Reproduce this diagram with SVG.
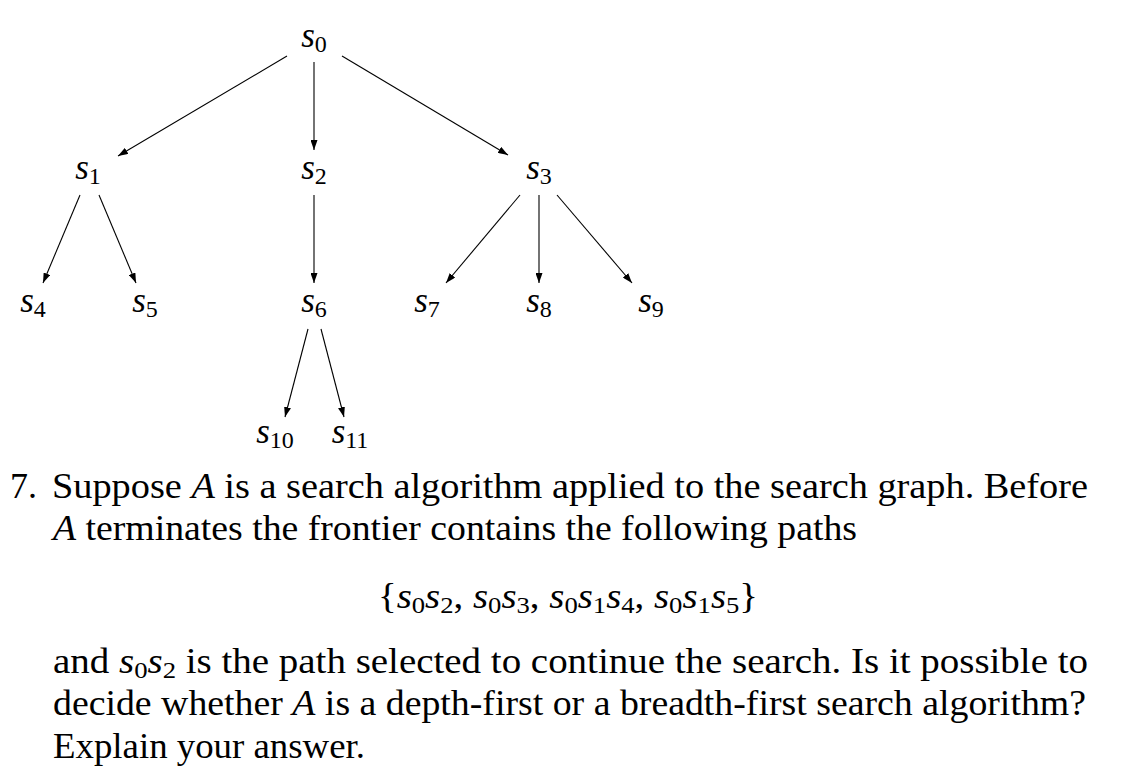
<svg xmlns="http://www.w3.org/2000/svg" width="1143" height="784" viewBox="0 0 1143 784">
<defs>
<style>
.lbl{font-family:"Liberation Serif","DejaVu Serif",serif;font-size:35px;font-style:italic;fill:#000}
.sub{font-size:24px;font-style:normal}
.body{font-family:"Liberation Serif","DejaVu Serif",serif;font-size:35px;fill:#000}
.it{font-style:italic}
.edge{stroke:#000;stroke-width:1.1;fill:none;marker-end:url(#ah)}
</style>
<marker id="ah" viewBox="0 0 10 7" refX="10" refY="3.5" markerWidth="10" markerHeight="7" markerUnits="userSpaceOnUse" orient="auto">
<path d="M0,0 L10,3.5 L0,7 Z" fill="#000"/>
</marker>
</defs>
<rect width="1143" height="784" fill="#fff"/>
<g id="connectors">
<line class="edge" x1="287" y1="56" x2="118" y2="156"/>
<line class="edge" x1="314" y1="62" x2="314" y2="150"/>
<line class="edge" x1="342" y1="56" x2="508" y2="155"/>
<line class="edge" x1="80" y1="195" x2="43" y2="283"/>
<line class="edge" x1="99" y1="195" x2="136" y2="283"/>
<line class="edge" x1="314" y1="195" x2="314" y2="283"/>
<line class="edge" x1="520" y1="195" x2="446" y2="283"/>
<line class="edge" x1="539" y1="195" x2="539" y2="283"/>
<line class="edge" x1="557" y1="195" x2="632" y2="283"/>
<line class="edge" x1="308" y1="329" x2="285" y2="417"/>
<line class="edge" x1="321" y1="329" x2="344" y2="417"/>
</g>
<g id="s0"><text class="lbl" x="314" y="47" text-anchor="middle">s<tspan class="sub" dy="5">0</tspan></text></g>
<g id="s1"><text class="lbl" x="88" y="179" text-anchor="middle">s<tspan class="sub" dy="5">1</tspan></text></g>
<g id="s2"><text class="lbl" x="314" y="179" text-anchor="middle">s<tspan class="sub" dy="5">2</tspan></text></g>
<g id="s3"><text class="lbl" x="539" y="179" text-anchor="middle">s<tspan class="sub" dy="5">3</tspan></text></g>
<g id="s4"><text class="lbl" x="33" y="312" text-anchor="middle">s<tspan class="sub" dy="5">4</tspan></text></g>
<g id="s5"><text class="lbl" x="145" y="312" text-anchor="middle">s<tspan class="sub" dy="5">5</tspan></text></g>
<g id="s6"><text class="lbl" x="314" y="312" text-anchor="middle">s<tspan class="sub" dy="5">6</tspan></text></g>
<g id="s7"><text class="lbl" x="427" y="312" text-anchor="middle">s<tspan class="sub" dy="5">7</tspan></text></g>
<g id="s8"><text class="lbl" x="539" y="312" text-anchor="middle">s<tspan class="sub" dy="5">8</tspan></text></g>
<g id="s9"><text class="lbl" x="651" y="312" text-anchor="middle">s<tspan class="sub" dy="5">9</tspan></text></g>
<g id="s10"><text class="lbl" x="275" y="443" text-anchor="middle">s<tspan class="sub" dy="5">10</tspan></text></g>
<g id="s11"><text class="lbl" x="350" y="443" text-anchor="middle">s<tspan class="sub" dy="5">11</tspan></text></g>
<g id="question">
<text class="body" x="10" y="498" textLength="27" lengthAdjust="spacingAndGlyphs">7.</text>
<text class="body" x="52" y="498" textLength="1036" lengthAdjust="spacingAndGlyphs">Suppose <tspan class="it">A</tspan> is a search algorithm applied to the search graph.  Before</text>
<text class="body" x="53" y="540" textLength="804" lengthAdjust="spacingAndGlyphs"><tspan class="it">A</tspan> terminates the frontier contains the following paths</text>
<text class="body" x="378" y="608" textLength="380" lengthAdjust="spacingAndGlyphs">{<tspan class="it">s</tspan><tspan class="sub" dy="5">0</tspan><tspan class="it" dy="-5">s</tspan><tspan class="sub" dy="5">2</tspan><tspan dy="-5">, </tspan><tspan class="it">s</tspan><tspan class="sub" dy="5">0</tspan><tspan class="it" dy="-5">s</tspan><tspan class="sub" dy="5">3</tspan><tspan dy="-5">, </tspan><tspan class="it">s</tspan><tspan class="sub" dy="5">0</tspan><tspan class="it" dy="-5">s</tspan><tspan class="sub" dy="5">1</tspan><tspan class="it" dy="-5">s</tspan><tspan class="sub" dy="5">4</tspan><tspan dy="-5">, </tspan><tspan class="it">s</tspan><tspan class="sub" dy="5">0</tspan><tspan class="it" dy="-5">s</tspan><tspan class="sub" dy="5">1</tspan><tspan class="it" dy="-5">s</tspan><tspan class="sub" dy="5">5</tspan><tspan dy="-5">}</tspan></text>
<text class="body" x="53" y="673" textLength="1035" lengthAdjust="spacingAndGlyphs">and <tspan class="it">s</tspan><tspan class="sub" dy="5">0</tspan><tspan class="it" dy="-5">s</tspan><tspan class="sub" dy="5">2</tspan><tspan dy="-5"> is the path selected to continue the search.  Is it possible to</tspan></text>
<text class="body" x="53" y="715" textLength="1033" lengthAdjust="spacingAndGlyphs">decide whether <tspan class="it">A</tspan> is a depth-first or a breadth-first search algorithm?</text>
<text class="body" x="53" y="758" textLength="312" lengthAdjust="spacingAndGlyphs">Explain your answer.</text>
</g>
</svg>
